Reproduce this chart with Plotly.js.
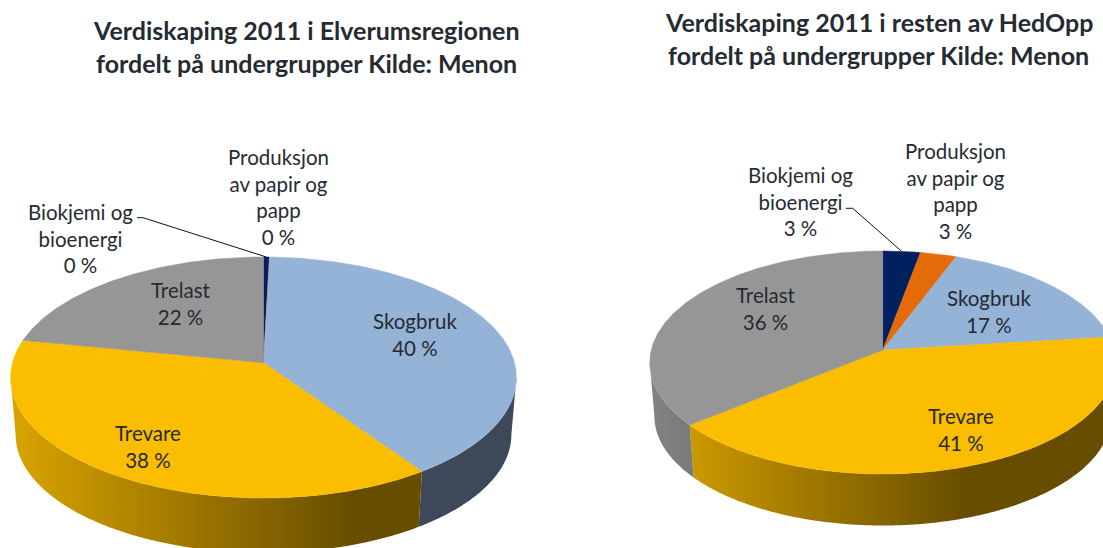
<!DOCTYPE html>
<html>
<head>
<meta charset="utf-8">
<script src="https://cdn.plot.ly/plotly-3.0.1.min.js"></script>
<style>html,body{margin:0;padding:0;background:#fff}#chart{width:1103px;height:548px}</style>
</head>
<body>
<div id="chart"></div>
<script>
// ---- data (clockwise from 12 o'clock) ----
const categories = ["Biokjemi og bioenergi", "Produksjon av papir og papp", "Skogbruk", "Trevare", "Trelast"];
const labelLines = [["Biokjemi og", "bioenergi"], ["Produksjon", "av papir og", "papp"], ["Skogbruk"], ["Trevare"], ["Trelast"]];
const elverumValues = [0.4, 0.05, 39.95, 37.7, 21.9];
const hedoppValues = [2.9, 2.8, 17.4, 41, 35.9];
const sliceColors = ["#002060", "#E36C09", "#95B2D7", "#FBBD00", "#969696"];
const titleLeft = ["Verdiskaping 2011 i Elverumsregionen", "fordelt på undergrupper Kilde: Menon"];
const titleRight = ["Verdiskaping 2011 i resten av HedOpp", "fordelt på undergrupper Kilde: Menon"];

// ---- layout of each tilted pie, in axis units ----
const pieLeft = {cx: 263.5, cy: 362.7, scale: 251, s: 118.7, p: 0.1228, depth: 57.5, shrink: 0.98, wallL: 10, wallR: 516,
  labels: [[80, 238.5], [278, 196.5], [415, 334.5], [148, 446.5], [181, 303.5]]};
const pieRight = {cx: 882.7, cy: 350, scale: 231.5, s: 110.1, p: 0.112, depth: 54, shrink: 0.98, wallL: 650, wallR: 1116,
  labels: [[800, 201], [955, 191], [989, 311.5], [961, 429.5], [766, 308]]};
const textColor = "#262B33";
const fontFamily = "Lato, Carlito, sans-serif";

function project(g, theta, wall) {
  const u = Math.sin(theta), v = -Math.cos(theta), d = 1 - g.p * v;
  const f = wall ? g.shrink : 1;
  return [g.cx + f * g.scale * u / d, g.cy + (wall ? g.depth : 0) + f * g.s * v / d];
}
function shade(hex, k) {
  const n = parseInt(hex.slice(1), 16);
  return `rgb(${Math.round((n >> 16) * k)},${Math.round(((n >> 8) & 255) * k)},${Math.round((n & 255) * k)})`;
}
function arc(g, a, b, wall) {
  const n = Math.max(2, Math.ceil(Math.abs(b - a) / 0.01)), pts = [];
  for (let i = 0; i <= n; i++) pts.push(project(g, a + (b - a) * i / n, wall));
  return pts;
}
const traces = [], annotations = [];

function addPie(g, values, title, titleX, titleY) {
  const total = values.reduce((a, b) => a + b, 0);
  const tangent = Math.acos(-g.p), tEnd = 2 * Math.PI - tangent;
  let acc = 0;
  const spans = values.map(v => { const a = acc / total * 2 * Math.PI; acc += v; return [a, acc / total * 2 * Math.PI]; });
  // side walls
  spans.forEach((sp, i) => {
    const a = Math.max(sp[0], tangent), b = Math.min(sp[1], tEnd);
    if (b <= a) return;
    const pts = arc(g, a, b, false).concat(arc(g, b, a, true));
    const base = sliceColors[i];
    traces.push({
      type: "scatter", mode: "none", x: pts.map(q => q[0]), y: pts.map(q => q[1]), fill: "toself",
      fillgradient: {type: "horizontal", start: g.wallL, stop: g.wallR,
        colorscale: [[0, shade(base, 0.87)], [0.68, shade(base, 0.41)], [1, shade(base, 0.41)]]},
      hoverinfo: "skip", showlegend: false
    });
  });
  // top faces
  spans.forEach((sp, i) => {
    const pts = [[g.cx, g.cy]].concat(arc(g, sp[0], sp[1], false), [[g.cx, g.cy]]);
    traces.push({
      type: "scatter", mode: "lines", x: pts.map(q => q[0]), y: pts.map(q => q[1]), fill: "toself",
      fillcolor: sliceColors[i], line: {color: sliceColors[i], width: 0.5},
      name: categories[i], hoverinfo: "name", showlegend: false
    });
    const lines = labelLines[i].concat([Math.round(values[i]) + " %"]);
    annotations.push({
      x: g.labels[i][0], y: g.labels[i][1], xref: "x", yref: "y", showarrow: false, align: "center",
      xanchor: "center", yanchor: "middle", text: lines.join("<br>"),
      font: {family: fontFamily, size: 20.5, color: textColor}
    });
  });
  // leader line to the first slice
  const mid = project(g, (spans[0][0] + spans[0][1]) / 2, false);
  const lab = g === pieLeft ? [[137, 217.7], [143, 217.7]] : [[846, 208.3], [852.7, 208.3]];
  traces.push({
    type: "scatter", mode: "lines", x: [lab[0][0], lab[1][0], mid[0]], y: [lab[0][1], lab[1][1], mid[1]],
    line: {color: "#111", width: 1}, hoverinfo: "skip", showlegend: false
  });
  title.forEach((t, i) => annotations.push({
    x: titleX, y: titleY[i], xref: "x", yref: "y", showarrow: false, xanchor: "center", yanchor: "middle",
    text: "<b>" + t + "</b>", font: {family: fontFamily, size: 25, color: textColor}
  }));
}
addPie(pieLeft, elverumValues, titleLeft, 306.5, [30, 63]);
addPie(pieRight, hedoppValues, titleRight, 878.5, [22, 55]);

const hidden = {visible: false, fixedrange: true};
Plotly.newPlot("chart", traces, {
  width: 1103, height: 548, margin: {l: 0, r: 0, t: 0, b: 0},
  paper_bgcolor: "#fff", plot_bgcolor: "#fff", showlegend: false,
  xaxis: Object.assign({range: [0, 1103]}, hidden),
  yaxis: Object.assign({range: [548, 0]}, hidden),
  annotations: annotations
}, {displayModeBar: false, staticPlot: true});
</script>
</body>
</html>
